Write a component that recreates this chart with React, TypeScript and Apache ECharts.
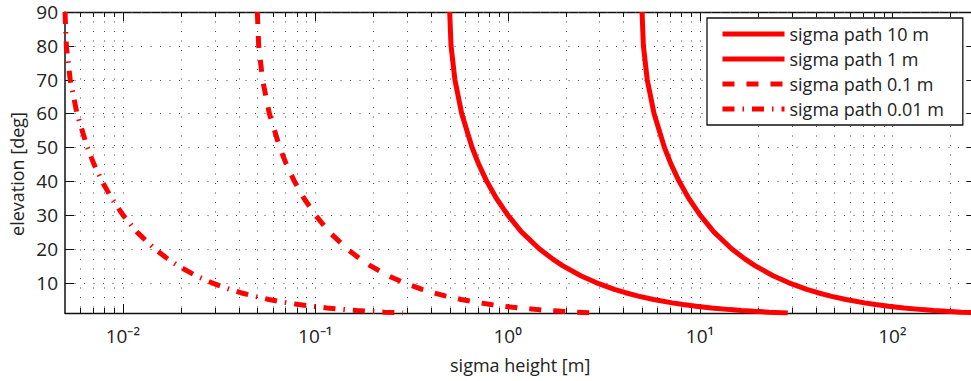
import React, { useEffect, useRef } from 'react';
import * as echarts from 'echarts';

// ---- data ----
const ELEVATION = [90, 80, 70, 60, 50, 45, 40, 35, 30, 25, 20, 17, 15, 12, 10, 8, 7, 6, 5, 4, 3.5, 3, 2.5, 2, 1.75, 1.5, 1.25, 1];
const H_10M = [5.0, 5.08, 5.32, 5.77, 6.53, 7.07, 7.78, 8.72, 10.0, 11.8, 14.6, 17.1, 19.3, 24.0, 28.8, 35.9, 41.0, 47.8, 57.4, 71.7, 81.9, 95.5, 115, 143, 164, 191, 229, 286];
const H_1M = [0.5, 0.508, 0.532, 0.577, 0.653, 0.707, 0.778, 0.872, 1.0, 1.18, 1.46, 1.71, 1.93, 2.4, 2.88, 3.59, 4.1, 4.78, 5.74, 7.17, 8.19, 9.55, 11.5, 14.3, 16.4, 19.1, 22.9, 28.6];
const H_01M = [0.05, 0.0508, 0.0532, 0.0577, 0.0653, 0.0707, 0.0778, 0.0872, 0.1, 0.118, 0.146, 0.171, 0.193, 0.24, 0.288, 0.359, 0.41, 0.478, 0.574, 0.717, 0.819, 0.955, 1.15, 1.43, 1.64, 1.91, 2.29, 2.86];
const H_001M = [0.005, 0.00508, 0.00532, 0.00577, 0.00653, 0.00707, 0.00778, 0.00872, 0.01, 0.0118, 0.0146, 0.0171, 0.0193, 0.024, 0.0288, 0.0359, 0.041, 0.0478, 0.0574, 0.0717, 0.0819, 0.0955, 0.115, 0.143, 0.164, 0.191, 0.229, 0.286];

const SERIES_NAMES = ['sigma path 10 m', 'sigma path 1 m', 'sigma path 0.1 m', 'sigma path 0.01 m'];

const X_MIN = 0.005;
const X_MAX = 270;
const Y_MIN = 1;
const Y_MAX = 90;

const X_MAJOR = [0.01, 0.1, 1, 10, 100];
const X_MINOR = [
  0.006, 0.007, 0.008, 0.009,
  0.02, 0.03, 0.04, 0.05, 0.06, 0.07, 0.08, 0.09,
  0.2, 0.3, 0.4, 0.5, 0.6, 0.7, 0.8, 0.9,
  2, 3, 4, 5, 6, 7, 8, 9,
  20, 30, 40, 50, 60, 70, 80, 90,
  200,
];
const Y_TICKS = [10, 20, 30, 40, 50, 60, 70, 80, 90];

const FONT = "'Open Sans', sans-serif";
const TEXT = '#222';
const RED = '#ff0000';

const SUP: Record<string, string> = { '-': '\u207B', '0': '\u2070', '1': '\u00B9', '2': '\u00B2', '3': '\u00B3' };

function pairs(xs: number[]) {
  return xs.map((x, i) => [x, ELEVATION[i]]);
}

export default function App() {
  const ref = useRef<HTMLDivElement>(null);

  useEffect(() => {
    const chart = echarts.init(ref.current!, null, { renderer: 'svg' });

    const vData = [
      ...X_MAJOR.map((x) => [x, Y_MIN, 1]),
      ...X_MINOR.map((x) => [x, Y_MIN, 0]),
    ];
    const hData = Y_TICKS.map((y) => [X_MIN, y]);

    const crisp = (v: number) => Math.round(v) + 0.5;

    const LW = 5;
    const lineTypes: any[] = ['solid', 'solid', [12, 12], [12, 8, 1.5, 8]];
    const curves = [H_10M, H_1M, H_01M, H_001M];

    const option: any = {
      animation: false,
      backgroundColor: '#fff',
      textStyle: { fontFamily: FONT, fontSize: 18, color: TEXT },
      grid: {
        left: 65,
        right: 24.7,
        top: 12,
        bottom: 68,
        containLabel: false,
        outerBoundsMode: 'none',
      },
      legend: {
        orient: 'vertical',
        left: 707,
        top: 18,
        data: SERIES_NAMES,
        itemWidth: 62,
        itemHeight: 6,
        itemGap: 7,
        padding: [7, 19, 7, 13],
        backgroundColor: '#fff',
        borderColor: '#111',
        borderWidth: 1.3,
        borderRadius: 0,
        itemStyle: { opacity: 0 },
        lineStyle: { width: LW },
        textStyle: { fontFamily: FONT, fontSize: 18, color: TEXT },
        selectedMode: false,
        z: 10,
      },
      xAxis: [
        {
          type: 'log',
          logBase: 10,
          min: X_MIN,
          max: X_MAX,
          position: 'bottom',
          name: 'sigma height [m]',
          nameLocation: 'middle',
          nameGap: 43,
          nameTextStyle: { fontFamily: FONT, fontSize: 18, color: TEXT },
          axisLine: { show: true, onZero: false, lineStyle: { color: '#111', width: 1.4 } },
          axisTick: { show: false },
          splitLine: { show: false },
          minorTick: { show: false },
          minorSplitLine: { show: false },
          axisLabel: {
            show: true,
            margin: 13,
            fontSize: 19,
            fontFamily: FONT,
            color: TEXT,
            showMinLabel: false,
            showMaxLabel: false,
            formatter: (v: number) => {
              const l = Math.log10(v);
              const e = Math.round(l);
              if (Math.abs(l - e) > 1e-6) return '';
              return '10' + String(e).split('').map((ch) => SUP[ch] || ch).join('');
            },
          },
        },
        {
          type: 'log',
          logBase: 10,
          min: X_MIN,
          max: X_MAX,
          position: 'top',
          axisLine: { show: true, onZero: false, lineStyle: { color: '#111', width: 1.4 } },
          axisTick: { show: false },
          axisLabel: { show: false },
          splitLine: { show: false },
        },
      ],
      yAxis: [
        {
          type: 'value',
          min: Y_MIN,
          max: Y_MAX,
          position: 'left',
          axisLine: { show: true, onZero: false, lineStyle: { color: '#111', width: 1.5 } },
          axisTick: { show: false },
          splitLine: { show: false },
          axisLabel: {
            show: true,
            margin: 7,
            customValues: Y_TICKS,
            fontFamily: FONT,
            fontSize: 19,
            color: TEXT,
          },
        },
        {
          type: 'value',
          min: Y_MIN,
          max: Y_MAX,
          position: 'right',
          axisLine: { show: true, onZero: false, lineStyle: { color: '#111', width: 1.5 } },
          axisTick: { show: false },
          axisLabel: { show: false },
          splitLine: { show: false },
        },
      ],
      graphic: [
        {
          type: 'text',
          x: 17,
          y: 174,
          rotation: Math.PI / 2,
          style: {
            text: 'elevation [deg]',
            fontFamily: FONT,
            fontSize: 18,
            fill: TEXT,
            textAlign: 'center',
            textVerticalAlign: 'middle',
          },
        },
      ],
      series: [
        {
          type: 'custom',
          name: 'xgrid',
          silent: true,
          z: 1,
          xAxisIndex: 0,
          yAxisIndex: 0,
          data: vData,
          renderItem: (params: any, api: any) => {
            const xv = api.value(0);
            const major = api.value(2) === 1;
            const cs = params.coordSys;
            const px = crisp(api.coord([xv, Y_MIN])[0]);
            const top = cs.y;
            const bottom = cs.y + cs.height;
            const tl = major ? 9 : 5;
            return {
              type: 'group',
              children: [
                { type: 'line', shape: { x1: px, y1: top, x2: px, y2: bottom }, style: { stroke: '#444', lineWidth: 1, lineDash: [1, 8.5] } },
                { type: 'line', shape: { x1: px, y1: bottom, x2: px, y2: bottom - tl }, style: { stroke: '#111', lineWidth: 1 } },
                { type: 'line', shape: { x1: px, y1: top, x2: px, y2: top + tl }, style: { stroke: '#111', lineWidth: 1 } },
              ],
            };
          },
        },
        {
          type: 'custom',
          name: 'ygrid',
          silent: true,
          z: 1,
          xAxisIndex: 0,
          yAxisIndex: 0,
          data: hData,
          renderItem: (params: any, api: any) => {
            const yv = api.value(1);
            const cs = params.coordSys;
            const py = crisp(api.coord([X_MIN, yv])[1]);
            const left = cs.x;
            const right = cs.x + cs.width;
            return {
              type: 'group',
              children: [
                { type: 'line', shape: { x1: left, y1: py, x2: right, y2: py }, style: { stroke: '#444', lineWidth: 1, lineDash: [1, 8.5] } },
                { type: 'line', shape: { x1: left, y1: py, x2: left + 9, y2: py }, style: { stroke: '#111', lineWidth: 1 } },
                { type: 'line', shape: { x1: right, y1: py, x2: right - 9, y2: py }, style: { stroke: '#111', lineWidth: 1 } },
              ],
            };
          },
        },
        ...curves.map((c, i) => ({
          type: 'line',
          name: SERIES_NAMES[i],
          xAxisIndex: 0,
          yAxisIndex: 0,
          data: pairs(c),
          symbol: 'none',
          showSymbol: false,
          smooth: false,
          clip: true,
          z: 3,
          color: RED,
          lineStyle: { color: RED, width: LW, type: lineTypes[i], cap: 'butt' },
          emphasis: { disabled: true },
        })),
      ],
    };

    chart.setOption(option);
    return () => chart.dispose();
  }, []);

  return (
    <div style={{ position: 'fixed', left: 0, top: 0, width: 971, height: 381, overflow: 'hidden', background: '#fff' }}>
      <div ref={ref} style={{ width: 1000, height: 381 }} />
    </div>
  );
}
